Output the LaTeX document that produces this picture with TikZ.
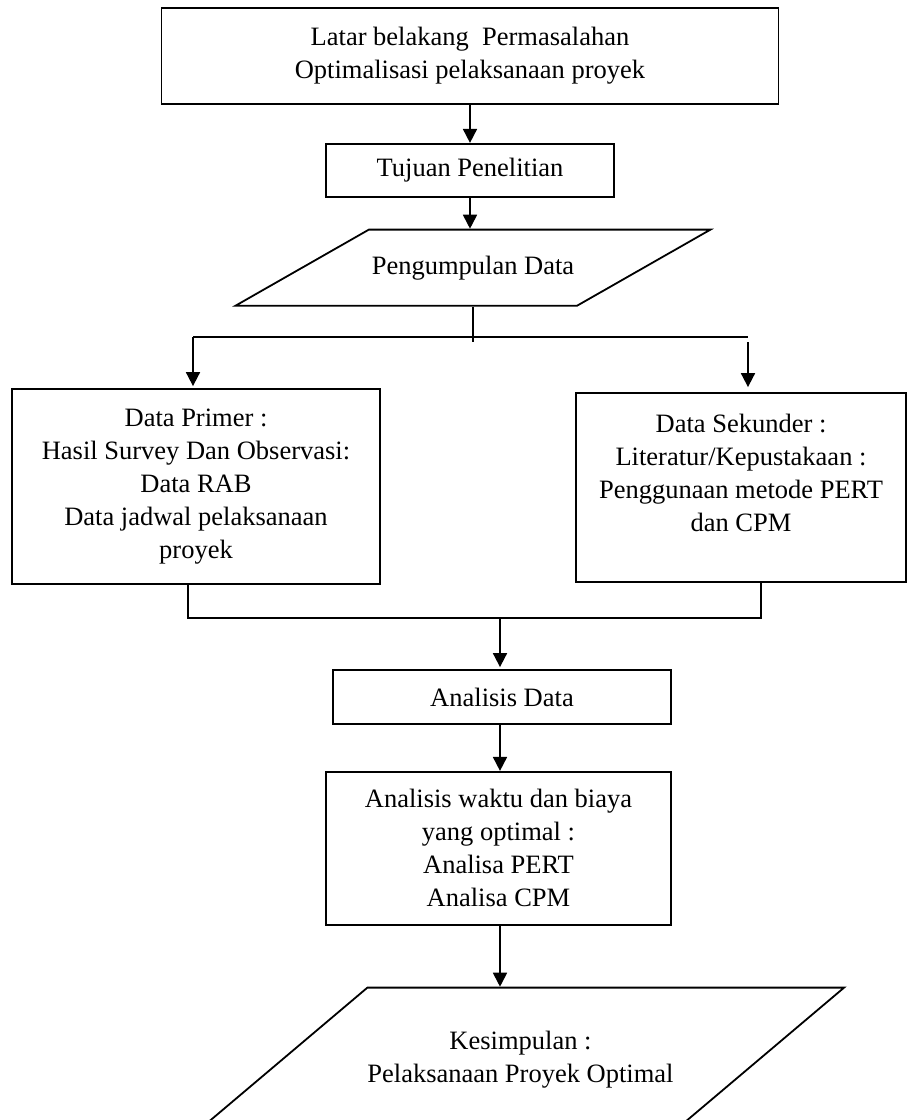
\documentclass[tikz,border=0pt]{standalone}
\usepackage{fontspec}
\setmainfont{Liberation Serif}
\usetikzlibrary{arrows.meta,positioning,shapes.geometric}

\begin{document}
\begin{tikzpicture}[x=1pt, y=-1pt,
  box/.style={draw, line width=1.8pt, inner sep=0pt, align=center,
    font=\fontsize{26.5pt}{33pt}\selectfont},
  datain/.style={box, trapezium, trapezium stretches body=true},
  flow/.style={line width=1.8pt, -{Triangle[length=14pt, width=14pt]}},
  branch/.style={line width=1.4pt}]
  \useasboundingbox (0,0) rectangle (908,1120);

  \node[box, minimum width=617pt, minimum height=96pt] (latar) at (470,56)
    {Latar belakang\ \ Permasalahan\\Optimalisasi pelaksanaan proyek};
  \node[box, below=38pt of latar, minimum width=288pt, minimum height=53pt] (tujuan)
    {Tujuan Penelitian};
  \node[datain, below=31pt of tujuan, xshift=3pt, trapezium left angle=29.7,
    trapezium right angle=150.3, inner ysep=26pt, minimum width=475pt] (kumpul)
    {Pengumpulan Data};

  \node[box, minimum width=368pt, minimum height=195pt] (primer) at (196,486.5)
    {Data Primer :\\Hasil Survey Dan Observasi:\\Data RAB\\Data jadwal pelaksanaan\\proyek};
  \node[box, minimum width=330pt, minimum height=189pt] (sekunder) at (741,487.5)
    {Data Sekunder :\\Literatur/Kepustakaan :\\Penggunaan metode PERT\\dan CPM\\[-4pt]~};

  \node[box, minimum width=338pt, minimum height=54pt] (analisis) at (502,697)
    {Analisis Data};
  \node[box, below=46pt of analisis, xshift=-3.5pt, minimum width=345pt,
    minimum height=153pt] (optimal)
    {Analisis waktu dan biaya\\yang optimal :\\Analisa PERT\\Analisa CPM};
  \node[datain, below=61pt of optimal, xshift=22pt, trapezium left angle=40.2,
    trapezium right angle=139.8, inner ysep=43.5pt, minimum width=642pt] (simpul)
    {Kesimpulan :\\Pelaksanaan Proyek Optimal};

  % percabangan data
  \coordinate (forkL) at (193,337);
  \coordinate (forkR) at (748,337);
  \coordinate (joinL) at (188,618);
  \coordinate (joinR) at (761,618);

  \draw[flow] (latar) -- (tujuan);
  \draw[flow] (tujuan) -- (tujuan.south |- kumpul.north);
  \draw[branch] (kumpul.south) -- ([yshift=-5pt]kumpul.south |- forkL);
  \draw[branch] (forkL) -- (forkR);
  \draw[flow, shorten >=2pt] (forkL) -- (forkL |- primer.north);
  \draw[flow, shorten >=5pt] ([yshift=-5pt]forkR) -- (forkR |- sekunder.north);
  \draw[branch] (primer.south -| joinL) -- (joinL) -- (joinR) -- (sekunder.south -| joinR);
  \draw[flow, shorten >=2pt] ([xshift=-2pt]analisis.north |- joinL) -- ([xshift=-2pt]analisis.north);
  \draw[flow] ([xshift=1.5pt]optimal.north |- analisis.south) -- ([xshift=1.5pt]optimal.north);
  \draw[flow] ([xshift=1.5pt]optimal.south) -- ([xshift=1.5pt]optimal.south |- simpul.north);
\end{tikzpicture}
\end{document}
